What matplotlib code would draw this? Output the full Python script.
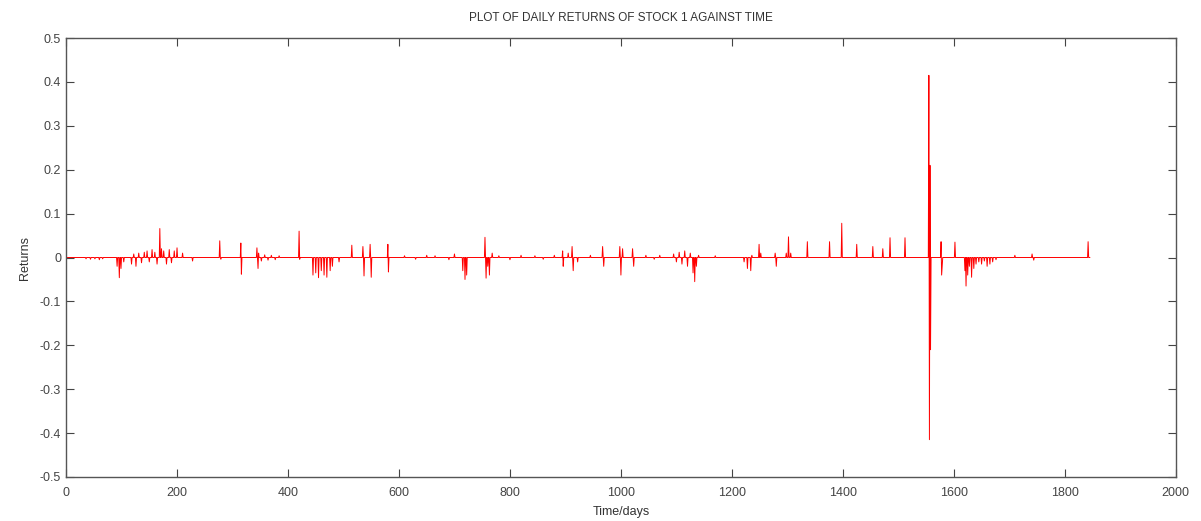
"""Daily returns of stock 1 against time - MATLAB-style line plot."""
import numpy as np
import matplotlib.pyplot as plt

plt.rcParams['font.family'] = ['Liberation Sans', 'DejaVu Sans']

n_days = 1845

# non-zero returns (day, value); every other day is 0
spike_days = [
    36, 44, 52, 60, 66,
    92, 96, 99, 104,
    118, 122, 126, 131, 136, 141, 146, 150, 155, 160, 164, 169, 172, 176, 181, 186, 190, 195, 200, 210, 228,
    277, 279, 315, 316,
    344, 346, 347, 352, 358, 364, 370, 377, 384,
    420, 421,
    445, 450, 455, 460, 465, 470, 476, 480, 492,
    515, 535, 537, 548, 550, 580, 581,
    610, 630, 650, 665, 690, 700,
    715, 719, 722, 755, 757, 760, 763, 768,
    780, 800, 820, 845, 860, 880,
    895, 896, 905, 912, 914, 922, 945, 967, 969,
    998, 1000, 1003, 1021, 1023, 1045, 1060, 1070,
    1095, 1100, 1105, 1110, 1115, 1120, 1125, 1130, 1133, 1136, 1140, 1170,
    1222, 1228, 1234, 1236, 1249, 1252, 1278, 1280,
    1298, 1302, 1306, 1336, 1376, 1398, 1425, 1454, 1472, 1485, 1512,
    1555, 1556, 1557, 1558,
    1577, 1578, 1579, 1602,
    1620, 1622, 1625, 1628, 1632, 1636, 1640, 1645, 1650, 1655, 1660, 1665, 1670, 1676,
    1710, 1741, 1744, 1842,
]
spike_vals = [
    -0.003, -0.004, -0.003, -0.005, -0.003,
    -0.02, -0.046, -0.025, -0.01,
    -0.015, 0.008, -0.02, 0.01, -0.012, 0.012, 0.015, -0.01, 0.018, 0.012, -0.015, 0.066, 0.02, 0.015, -0.015, 0.018, -0.012, 0.015, 0.022, 0.01, -0.008,
    0.038, -0.004, 0.033, -0.038,
    0.022, -0.025, 0.01, -0.008, 0.006, -0.006, 0.005, -0.005, 0.004,
    0.06, -0.004,
    -0.04, -0.035, -0.046, -0.03, -0.04, -0.045, -0.03, -0.02, -0.01,
    0.028, 0.025, -0.042, 0.03, -0.045, 0.03, -0.033,
    0.004, -0.004, 0.005, 0.004, -0.005, 0.008,
    -0.03, -0.05, -0.04, 0.046, -0.047, -0.02, -0.04, 0.01,
    0.004, -0.005, 0.005, 0.004, -0.004, 0.005,
    0.015, -0.02, 0.01, 0.025, -0.03, -0.01, 0.005, 0.025, -0.02,
    0.025, -0.04, 0.02, 0.02, -0.02, 0.005, -0.004, 0.005,
    0.008, -0.01, 0.012, -0.015, 0.015, -0.02, 0.01, -0.035, -0.055, -0.02, 0.005, 0.004,
    -0.01, -0.025, -0.03, 0.005, 0.03, 0.01, 0.01, -0.02,
    0.01, 0.047, 0.01, 0.036, 0.036, 0.078, 0.03, 0.025, 0.02, 0.045, 0.045,
    0.415, -0.415, 0.21, -0.21,
    0.036, -0.04, -0.02, 0.035,
    -0.03, -0.065, -0.04, -0.02, -0.045, -0.025, -0.015, -0.01, -0.015, -0.008, -0.02, -0.015, -0.01, -0.005,
    0.005, 0.008, -0.006, 0.036,
]

days = np.arange(1, n_days + 1)
returns = np.zeros(n_days)
returns[np.array(spike_days) - 1] = spike_vals

fig = plt.figure(figsize=(12.01, 5.21), dpi=100)
ax = fig.add_axes([0.055, 0.0845, 0.924, 0.8425])
ax.plot(days, returns, color='#ff0000', lw=0.7)

ax.set_xlim(0, 2000)
ax.set_ylim(-0.5, 0.5)
ax.set_xticks(np.arange(0, 2001, 200))
yt = np.round(np.arange(-0.5, 0.51, 0.1), 1)
ax.set_yticks(yt)
ax.set_yticklabels(['0' if v == 0 else f'{v:g}' for v in yt])

for s in ax.spines.values():
    s.set_color('#555555')
    s.set_linewidth(1.0)
ax.tick_params(direction='in', top=True, right=True, length=6, width=0.8,
               color='#444444', labelcolor='#444444', labelsize=9)
ax.tick_params(axis='x', pad=7)

ax.set_title('PLOT OF DAILY RETURNS OF STOCK 1 AGAINST TIME', fontsize=8.5, color='#333333', pad=12)
ax.set_xlabel('Time/days', fontsize=9, color='#333333', labelpad=5)
ax.set_ylabel('Returns', fontsize=9, color='#333333', labelpad=6)

fig.savefig('out.png', dpi=100)
